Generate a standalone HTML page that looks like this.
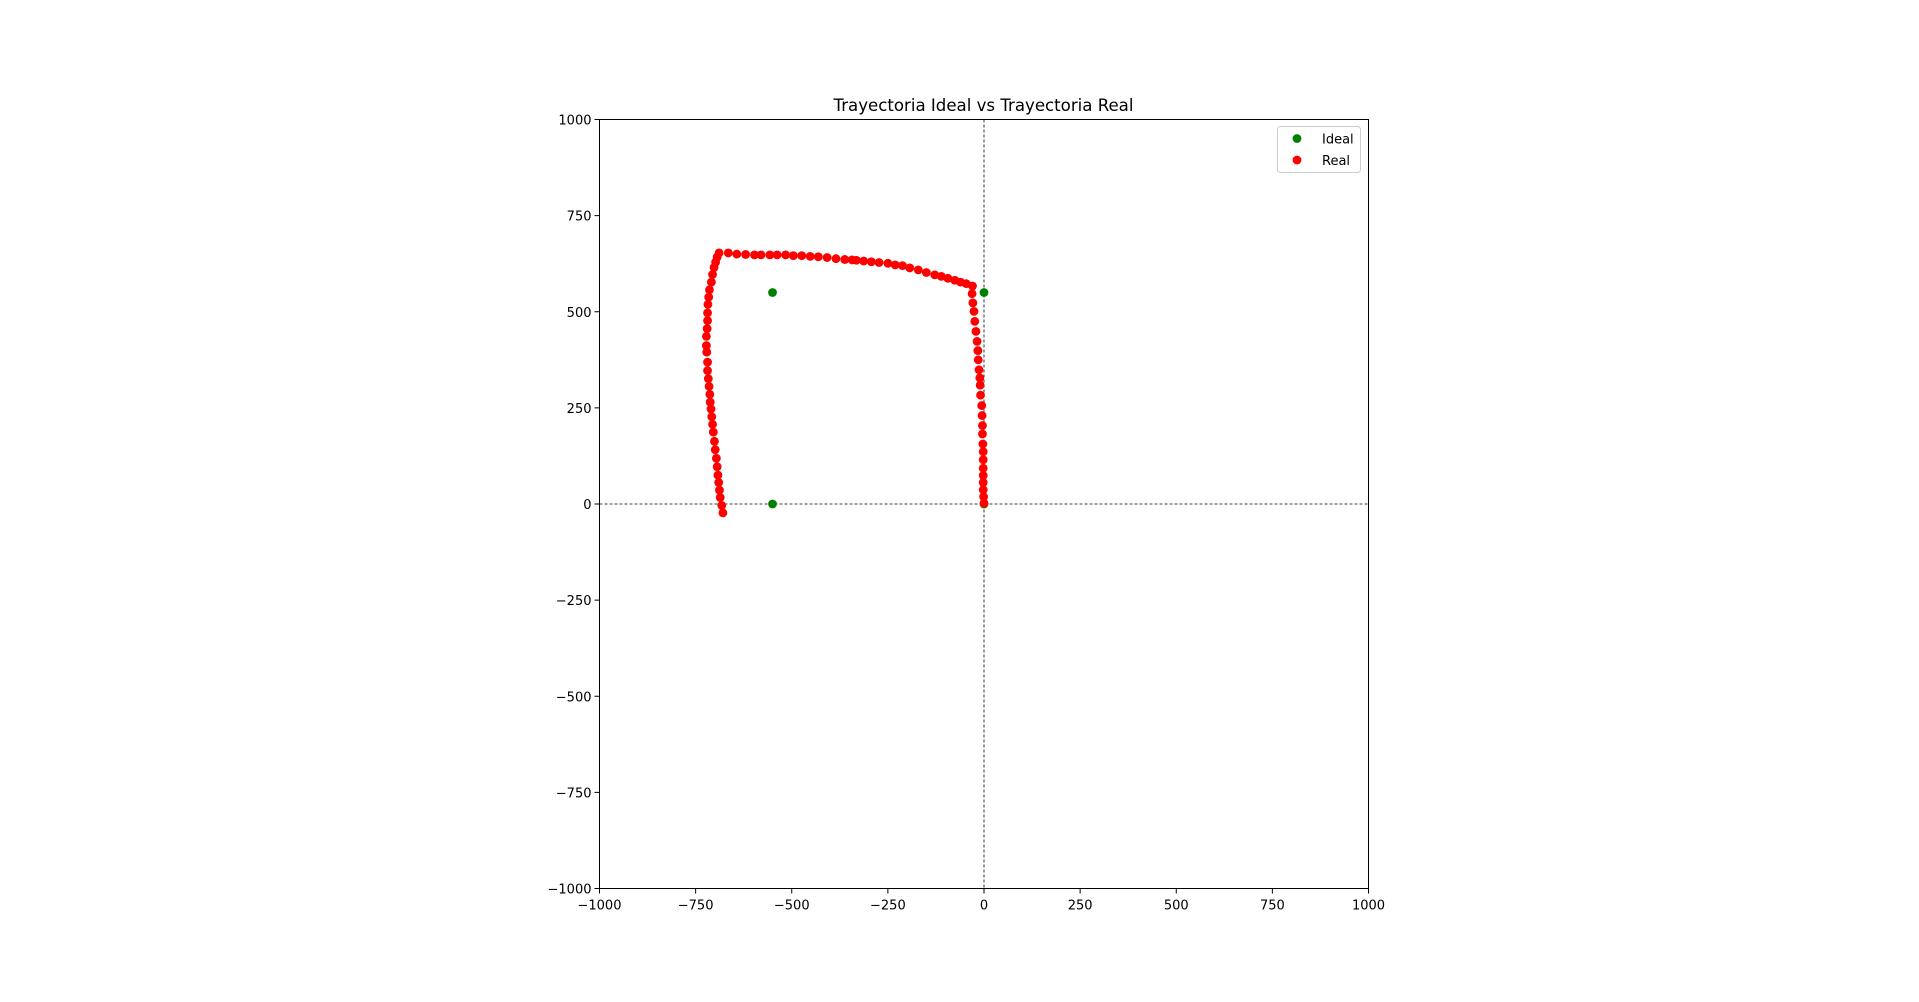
<!DOCTYPE html>
<html><head><meta charset="utf-8"><style>
body{margin:0;background:#fff;}
svg text{font-family:"DejaVu Sans","Liberation Sans",sans-serif;fill:#000;}
</style></head><body>
<svg id="chart" width="1919" height="997" xmlns="http://www.w3.org/2000/svg">
<rect width="1919" height="997" fill="#fff"/>
<text x="983.5" y="111" font-size="16.6" text-anchor="middle">Trayectoria Ideal vs Trayectoria Real</text>
<g id="grid"></g><g id="ticks"></g><g id="marks"></g>
<rect x="599.5" y="119.5" width="769" height="769" fill="none" stroke="#000" stroke-width="1"/>
<g>
<rect x="1277.5" y="126.5" width="83" height="46" rx="3" fill="#fff" fill-opacity="0.8" stroke="#ccc"/>
<circle cx="1297" cy="138.5" r="4.4" fill="green"/>
<text x="1322" y="143.5" font-size="13">Ideal</text>
<circle cx="1297" cy="160" r="4.4" fill="red"/>
<text x="1322" y="165" font-size="13">Real</text>
</g>
</svg>
<script>
const xTicks=[-1000,-750,-500,-250,0,250,500,750,1000];
const yTicks=[-1000,-750,-500,-250,0,250,500,750,1000];
const idealX=[-550,0,-550,0];
const idealY=[550,550,0,0];
const realX=[-679,-682,-686,-688,-690,-692,-694,-696,-699,-701,-704,-706,-708,-710,-712,-713,-715,-717,-719,-719,-721,-722,-722,-720,-719,-719,-718,-716,-714,-709,-706,-702,-698,-694,-689,
-665,-643,-620,-597,-580,-557,-538,-516,-496,-474,-452,-431,-408,-385,-362,-343,-332,-313,-293,-273,-250,-231,-212,-193,-171,-150,-128,-111,-94,-76,-61,-46,-30,
-31,-29,-26,-24,-21,-18,-16,-15,-13,-11,-10,-9,-6,-5,-4,-4,-3,-2,-2,-2,-2,-2,-2,-1,0];
const realY=[-23,-4,17,36,56,75,97,119,141,163,187,207,227,247,265,285,306,326,347,369,395,412,436,456,477,497,519,538,557,577,597,615,629,642,653,
653,650,649,648,648,648,648,648,646,646,644,643,641,638,636,635,634,632,630,628,626,622,620,614,609,602,596,592,587,582,577,573,567,
547,523,501,475,449,423,399,375,349,328,309,283,256,230,204,182,156,136,115,93,74,56,37,19,2];
const X0=599.5,X1=1368.5,Y0=888.5,Y1=119.5;
const sx=v=>X0+(v+1000)/2000*(X1-X0);
const sy=v=>Y0-(v+1000)/2000*(Y0-Y1);
const NS='http://www.w3.org/2000/svg';
function mk(t,a,p){const e=document.createElementNS(NS,t);for(const k in a)e.setAttribute(k,a[k]);p.appendChild(e);return e;}
const grid=document.getElementById('grid'),ticks=document.getElementById('ticks'),marks=document.getElementById('marks');
let l=mk('line',{x1:sx(0),x2:sx(0),y1:Y1,y2:Y0,stroke:'#000','stroke-width':0.8,'stroke-dasharray':'3,2'},grid);


l=mk('line',{x1:X0,x2:X1,y1:sy(0),y2:sy(0),stroke:'#000','stroke-width':0.8,'stroke-dasharray':'3,2'},grid);


xTicks.forEach(v=>{
 const x=sx(v);
 const t=mk('line',{x1:x,x2:x,y1:Y0,y2:Y0+5,stroke:'#000'},ticks);
 
 
 const s=mk('text',{x:x,y:Y0+21,'font-size':13,'text-anchor':'middle'},ticks);
 s.textContent=v<0?'\u2212'+(-v):String(v);
 
 
});
yTicks.forEach(v=>{
 const y=sy(v);
 const t=mk('line',{x1:X0-5,x2:X0,y1:y,y2:y,stroke:'#000'},ticks);
 
 
 const s=mk('text',{x:X0-8,y:y+5,'font-size':13,'text-anchor':'end'},ticks);
 s.textContent=v<0?'\u2212'+(-v):String(v);
 
 
});
idealX.forEach((v,i)=>{
 const c=mk('circle',{cx:sx(v),cy:sy(idealY[i]),r:4.4,fill:'green'},marks);
 
 
});
realX.forEach((v,i)=>{
 const c=mk('circle',{cx:sx(v),cy:sy(realY[i]),r:4.4,fill:'red'},marks);
 
 
});
</script>
</body></html>
